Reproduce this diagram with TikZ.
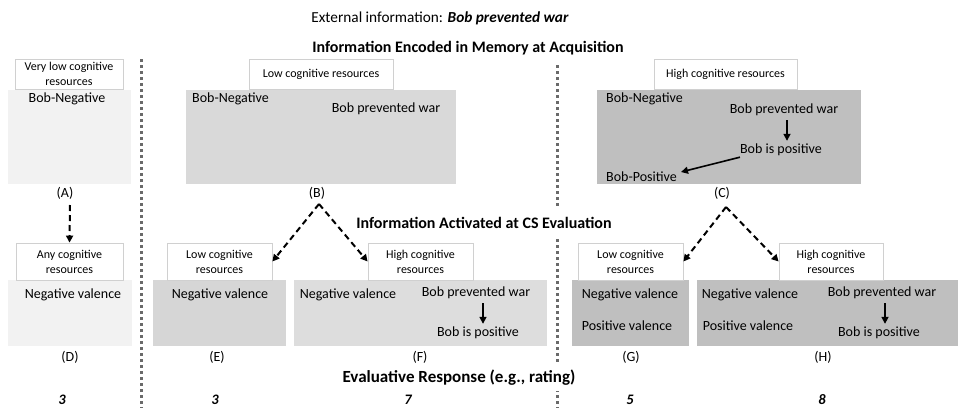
\documentclass[tikz,border=0pt]{standalone}
\usepackage{fontspec}
\setmainfont{Carlito}
\usetikzlibrary{arrows.meta}
\definecolor{boxA}{HTML}{F2F2F2}
\definecolor{boxB}{HTML}{D9D9D9}
\definecolor{boxE}{HTML}{D6D6D6}
\definecolor{boxF}{HTML}{DDDDDD}
\definecolor{boxC}{HTML}{BFBFBF}
\definecolor{lblline}{HTML}{D0D0D0}
\definecolor{sepline}{HTML}{6A6A6A}
\tikzset{
  txt/.style={inner sep=0pt, font=\fontsize{14}{16}\selectfont},
  small/.style={draw=lblline, line width=0.8pt, fill=white, align=center, inner sep=0pt,
    font=\fontsize{12}{15}\selectfont},
  title/.style={fill=white, inner xsep=2pt, inner ysep=9pt, font=\fontsize{16}{19}\selectfont\bfseries},
  score/.style={inner sep=0pt, font=\fontsize{14.5}{16}\selectfont\bfseries\itshape},
  sep/.style={sepline, line width=3pt, dash pattern=on 3pt off 3pt},
  dasharr/.style={line width=2pt, dash pattern=on 6pt off 4pt, -{Triangle[length=7pt,width=7pt]}},
  solarr/.style={line width=1.6pt, -{Triangle[length=7pt,width=7pt]}}
}
\begin{document}
\begin{tikzpicture}[x=1pt,y=-1pt]
\useasboundingbox (0,0) rectangle (962,408);

% panel backgrounds: acquisition row
\fill[boxA] (8,90) rectangle (131,184);
\fill[boxB] (186,90) rectangle (456,184);
\fill[boxC] (597,90) rectangle (861,184);
% panel backgrounds: evaluation row
\fill[boxA] (8,280) rectangle (132,346);
\fill[boxE] (153,280) rectangle (286,346);
\fill[boxF] (294,280) rectangle (547,346);
\fill[boxC] (572,280) rectangle (689,346);
\fill[boxC] (697,280) rectangle (958,346);

% vertical separators
\draw[sep] (141,59) -- (141,408);
\draw[sep] (557,59) -- (557,408);

% headings
\node[inner sep=0pt, font=\fontsize{15.3}{18}\selectfont] (ext) at (440,18)
  {External information: \textbf{\textit{Bob prevented war}}};
\node[title] (enc) at (468,48) {Information Encoded in Memory at Acquisition};
\node[title] (act) at (484,223) {Information Activated at CS Evaluation};
\node[title, inner ysep=5pt, font=\fontsize{17}{20}\selectfont\bfseries] (eval) at (459,378)
  {Evaluative Response (e.g., rating)};

% resource labels, top row
\node[small, minimum width=108pt, minimum height=30pt] (lA) at (69,74)
  {Very low cognitive\\resources};
\node[small, minimum width=144pt, minimum height=30pt] (lB) at (321,74)
  {Low cognitive resources};
\node[small, minimum width=143pt, minimum height=30pt] (lC) at (725.5,74)
  {High cognitive resources};

% resource labels, bottom row
\node[small, minimum width=107pt, minimum height=37pt] (lD) at (69.5,261.5)
  {Any cognitive\\resources};
\node[small, minimum width=105pt, minimum height=37pt] (lE) at (219.5,261.5)
  {Low cognitive\\resources};
\node[small, minimum width=105pt, minimum height=37pt] (lF) at (420.5,261.5)
  {High cognitive\\resources};
\node[small, minimum width=105pt, minimum height=37pt] (lG) at (630.5,261.5)
  {Low cognitive\\resources};
\node[small, minimum width=104pt, minimum height=37pt] (lH) at (831,261.5)
  {High cognitive\\resources};

% panel A
\node[txt] (aneg) at (67,99) {Bob-Negative};
\node[txt] (capA) at (65,193) {(A)};
% panel B
\node[txt, anchor=west] (bneg) at (192,99) {Bob-Negative};
\node[txt] (bpw) at (386,109) {Bob prevented war};
\node[txt] (capB) at (317,193) {(B)};
% panel C
\node[txt, anchor=west] (cneg) at (606,99) {Bob-Negative};
\node[txt] (cpw) at (784,110) {Bob prevented war};
\node[txt] (cip) at (781,150) {Bob is positive};
\node[txt, anchor=west] (cpos) at (606,177) {Bob-Positive};
\node[txt] (capC) at (722,193) {(C)};
\draw[solarr] ([xshift=3pt,yshift=-4pt]cpw.south) -- ([xshift=6pt,yshift=3pt]cip.north);
\draw[solarr] ([shift={(0,1)}]cip.south west) -- ([shift={(4,-5)}]cpos.east);

% panel D
\node[txt] (dneg) at (73,295) {Negative valence};
\node[txt] (capD) at (70,357) {(D)};
\node[score] (sD) at (62,400) {3};
% panel E
\node[txt] (eneg) at (220,295) {Negative valence};
\node[txt] (capE) at (217,357) {(E)};
\node[score] (sE) at (215,400) {3};
% panel F
\node[txt] (fneg) at (348,295) {Negative valence};
\node[txt] (fpw) at (476,293) {Bob prevented war};
\node[txt] (fip) at (478,333) {Bob is positive};
\node[txt] (capF) at (420,357) {(F)};
\node[score] (sF) at (408,400) {7};
\draw[solarr] ([xshift=7pt,yshift=-4pt]fpw.south) -- ([xshift=5pt,yshift=3pt]fip.north);
% panel G
\node[txt] (gneg) at (630,295) {Negative valence};
\node[txt] (gpos) at (627,326) {Positive valence};
\node[txt] (capG) at (631,357) {(G)};
\node[score] (sG) at (630,400) {5};
% panel H
\node[txt] (hneg) at (750,295) {Negative valence};
\node[txt] (hpos) at (748,326) {Positive valence};
\node[txt] (hpw) at (882,293) {Bob prevented war};
\node[txt] (hip) at (879,333) {Bob is positive};
\node[txt] (capH) at (823,357) {(H)};
\node[score] (sH) at (822,400) {8};
\draw[solarr] ([xshift=3pt,yshift=-4pt]hpw.south) -- ([xshift=6pt,yshift=3pt]hip.north);

% transitions from acquisition to evaluation
\coordinate (topA) at (70,205);
\coordinate (topB) at (319,204);
\coordinate (topC) at (726,207);
\draw[dasharr] (topA) -- (lD.north);
\draw[dasharr] (topB) -- (lE.east);
\draw[dasharr] (topB) -- (lF.west);
\draw[dasharr] (topC) -- (lG.east);
\draw[dasharr] (topC) -- (lH.west);
\end{tikzpicture}
\end{document}
